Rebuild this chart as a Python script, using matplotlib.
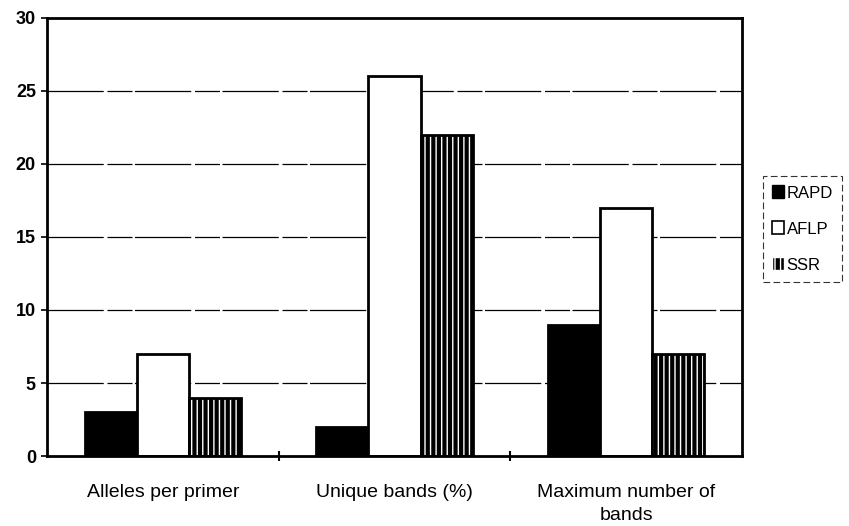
import numpy as np
import matplotlib.pyplot as plt
from matplotlib.patches import Patch

plt.rcParams['font.family'] = ['Liberation Sans', 'DejaVu Sans']

categories = ['Alleles per primer', 'Unique bands (%)', 'Maximum number of\nbands']
markers = ['RAPD', 'AFLP', 'SSR']
rapd = [3, 2, 9]
aflp = [7, 26, 17]
ssr = [4, 22, 7]

fig = plt.figure(figsize=(8.49, 5.26), dpi=100)
ax = fig.add_axes([0.0554, 0.133, 0.8186, 0.833])

x = np.arange(len(categories))
w = 0.225

# gridlines, nearly solid with small gaps like the scan
for yv in [5, 10, 15, 20, 25]:
    ax.axhline(yv, color='black', lw=0.9, ls=(0, (45, 3, 20, 2)), zorder=0)

ax.bar(x - w, rapd, w, color='black', edgecolor='black', lw=2, zorder=2)
ax.bar(x, aflp, w, color='white', edgecolor='black', lw=2, zorder=2)
# SSR: black fill with white vertical stripes, then outline
ax.bar(x + w, ssr, w, color='black', edgecolor='white', hatch='|||', lw=0, zorder=2)
ax.bar(x + w, ssr, w, fill=False, edgecolor='black', lw=2, zorder=3)

ax.set_xlim(-0.5, 2.5)
ax.set_ylim(0, 30)
ax.set_yticks(range(0, 31, 5))
ax.set_yticklabels([str(v) for v in range(0, 31, 5)], fontsize=13, fontweight='bold')
ax.set_xticks([0.5, 1.5])
ax.set_xticklabels([])
ax.tick_params(axis='x', direction='inout', length=7, width=1.5)
ax.tick_params(axis='y', direction='out', length=4, width=1.2, pad=4)
for i, lab in enumerate(categories):
    ax.text(x[i], -1.9, lab, ha='center', va='top', fontsize=14, linespacing=1.45)

for sp in ax.spines.values():
    sp.set_linewidth(2)
    sp.set_color('black')

handles = [
    Patch(facecolor='black', edgecolor='black', label='RAPD'),
    Patch(facecolor='white', edgecolor='black', lw=1.2, label='AFLP'),
    Patch(facecolor='black', edgecolor='white', hatch='|||', label='SSR'),
]
leg = fig.legend(handles=handles, loc='upper left', bbox_to_anchor=(0.899, 0.665),
                 fontsize=12, frameon=True, fancybox=False, handlelength=0.7,
                 handleheight=0.8, handletextpad=0.15, labelspacing=1.25,
                 borderpad=0.55, borderaxespad=0)
leg.get_frame().set_edgecolor('black')
leg.get_frame().set_linewidth(0.8)
leg.get_frame().set_linestyle((0, (6, 3)))

fig.savefig('out.png', dpi=100)
